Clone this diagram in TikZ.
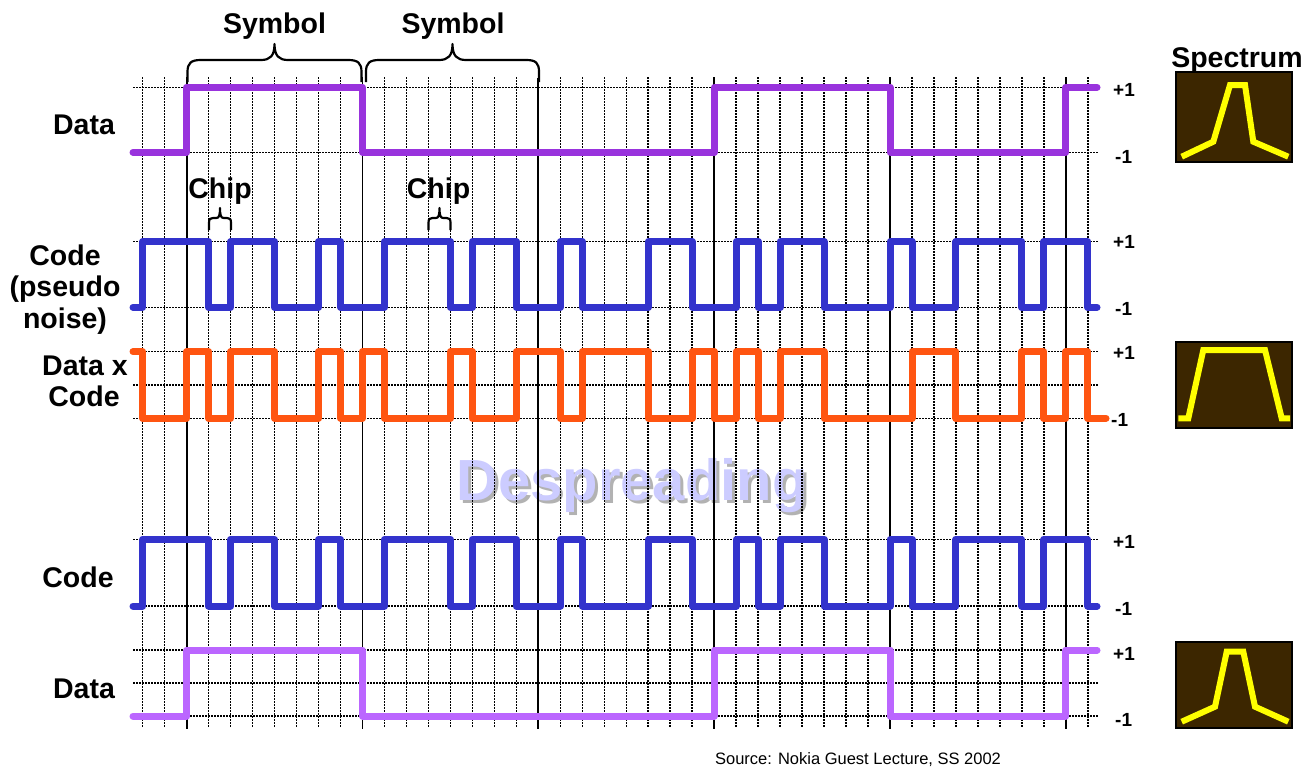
\documentclass[tikz,border=0pt]{standalone}
\usepackage{fontspec}
\setmainfont{Liberation Sans}
\definecolor{datap}{RGB}{153,51,221}
\definecolor{datal}{RGB}{187,102,255}
\definecolor{codeb}{RGB}{51,51,204}
\definecolor{prodo}{RGB}{255,85,17}
\definecolor{specbg}{RGB}{60,38,0}
\definecolor{specy}{RGB}{255,255,0}
\definecolor{despr}{RGB}{204,204,255}
\definecolor{shad}{RGB}{178,178,178}
\begin{document}
\begin{tikzpicture}[x=1pt,y=-1pt,
  wave/.style={line width=7pt,line cap=round,line join=round},
  gridv/.style={line width=1.5pt,dash pattern=on 1.5pt off 1.5pt},
  solidv/.style={line width=1.8pt},
  bracepath/.style={line width=2.2pt,line cap=butt,line join=round},
  lbl/.style={font=\fontsize{28.5}{32}\selectfont\bfseries,inner sep=0pt,anchor=base},
  lvl/.style={font=\fontsize{19}{21}\selectfont\bfseries,inner sep=0pt,anchor=west},
  specbox/.style={fill=specbg,draw=black,line width=2.2pt},
  specline/.style={draw=specy,line width=6pt,line join=miter,line cap=butt}]
\fill[white] (0,0) rectangle (1314,771);
\useasboundingbox (0,0) rectangle (1314,771);

% Despreading watermark (with shadow)
\node[font=\fontsize{58}{60}\selectfont\bfseries,inner sep=0pt,anchor=base] (desp) at (632,500)
  {\makebox[0pt][l]{\hspace{3pt}\raisebox{-3pt}{\textcolor{shad}{Despreading}}}\textcolor{despr}{Despreading}};

% grid
\foreach \k in {0,...,43}
  \draw[gridv] ({142.7+21.98*\k},77) -- ({142.7+21.98*\k},728);
\foreach \y in {87.3,152.3,241.7,307.3,351.7,385,418.3,539.3,606,650,683,716}
  \draw[gridv] (133,\y) -- (1099,\y);
\foreach \k in {2,10,18,26,34,42}
  \draw[solidv] ({142.7+21.98*\k},78) -- ({142.7+21.98*\k},729);

% waveforms
\draw[wave,datap] (133,152.3) foreach \k [count=\i] in {2,10,26,34,42}
  { -| ({142.7+21.98*\k},{152.3-65*mod(\i,2)}) } -- (1097,87.3);
\draw[wave,codeb] (133,307.3) foreach \k [count=\i] in {0,3,4,6,8,9,11,14,15,17,19,20,23,25,27,28,29,31,34,35,37,40,41,43}
  { -| ({142.7+21.98*\k},{307.3-65.6*mod(\i,2)}) } -- (1097,307.3);
\draw[wave,prodo] (133,351.7) foreach \k [count=\i] in {0,2,3,4,6,8,9,10,11,14,15,17,19,20,23,25,26,27,28,29,31,35,37,40,41,42,43}
  { -| ({142.7+21.98*\k},{351.7+66.6*mod(\i,2)}) } -- (1106,418.3);
\draw[wave,codeb] (133,606) foreach \k [count=\i] in {0,3,4,6,8,9,11,14,15,17,19,20,23,25,27,28,29,31,34,35,37,40,41,43}
  { -| ({142.7+21.98*\k},{606-66.7*mod(\i,2)}) } -- (1097,606);
\draw[wave,datal] (133,716) foreach \k [count=\i] in {2,10,26,34,42}
  { -| ({142.7+21.98*\k},{716-66*mod(\i,2)}) } -- (1097,650);

% symbol braces
\draw[bracepath] (187.5,82) -- (187.5,72) .. controls (187.5,63) and (191,60) .. (201,60) -- (261,60)
  .. controls (270,60) and (274.5,56) .. (274.5,44) .. controls (274.5,56) and (279,60) .. (288,60)
  -- (348,60) .. controls (358,60) and (361.5,63) .. (361.5,72) -- (361.5,82);
\draw[bracepath] (366,82) -- (366,72) .. controls (366,63) and (369.5,60) .. (379.5,60) -- (439,60)
  .. controls (448,60) and (452.5,56) .. (452.5,44) .. controls (452.5,56) and (457,60) .. (466,60)
  -- (526,60) .. controls (536,60) and (539,63) .. (539,72) -- (539,82);
\node[lbl] (sym1) at (274.5,33) {Symbol};
\node[lbl] (sym2) at (453,33) {Symbol};

% chip braces
\draw[bracepath] (209,230) -- (209,223) .. controls (209,219) and (210,218) .. (213,218) -- (216,218)
  .. controls (219,218) and (220,216) .. (220,208) .. controls (220,216) and (221,218) .. (224,218)
  -- (227,218) .. controls (230,218) and (231,219) .. (231,223) -- (231,230);
\draw[bracepath] (428.5,230) -- (428.5,223) .. controls (428.5,219) and (429.5,218) .. (432.5,218) -- (435.5,218)
  .. controls (438.5,218) and (439.5,216) .. (439.5,208) .. controls (439.5,216) and (440.5,218) .. (443.5,218)
  -- (446.5,218) .. controls (449.5,218) and (450.5,219) .. (450.5,223) -- (450.5,230);
\node[lbl] (chip1) at (220,198) {Chip};
\node[lbl] (chip2) at (438.5,198) {Chip};

% left labels
\node[lbl] (ldata1) at (84,134) {Data};
\node[lbl] (lcode1a) at (65,265) {Code};
\node[lbl] (lcode1b) at (65,296.5) {(pseudo};
\node[lbl] (lcode1c) at (65,328) {noise)};
\node[lbl] (ldxc1) at (85,375) {Data x};
\node[lbl] (ldxc2) at (84,406) {Code};
\node[lbl] (lcode2) at (78,587) {Code};
\node[lbl] (ldata2) at (84,698) {Data};

% level labels
\node[lvl] (d1p) at (1113,90) {+1};
\node[lvl] (d1m) at (1115,157) {-1};
\node[lvl] (c1p) at (1113,242) {+1};
\node[lvl] (c1m) at (1115,309) {-1};
\node[lvl] (x1p) at (1113,353) {+1};
\node[lvl] (x1m) at (1111,420) {-1};
\node[lvl] (c2p) at (1113,542) {+1};
\node[lvl] (c2m) at (1115,609) {-1};
\node[lvl] (d2p) at (1113,654) {+1};
\node[lvl] (d2m) at (1115,720) {-1};

% spectrum
\node[lbl] (spec) at (1237,67) {Spectrum};
\draw[specbox] (1176,72) rectangle (1292,162);
\draw[specline] (1181.7,156.7) -- (1213.3,141.7) -- (1230,85) -- (1245,85) -- (1253.3,141.7) -- (1288.3,156.7);
\draw[specbox] (1176,342) rectangle (1292,428);
\draw[specline] (1178.3,418.3) -- (1188.3,418.3) -- (1203.3,350) -- (1265,350) -- (1281.7,418.3) -- (1290,418.3);
\draw[specbox] (1176,642) rectangle (1292,728);
\draw[specline] (1181.7,721.7) -- (1215,706.7) -- (1226.7,651.7) -- (1243.3,651.7) -- (1255,706.7) -- (1288.3,721.7);

% source
\node[font=\fontsize{16.5}{19}\selectfont,inner sep=0pt] (src) at (858,760) {Source: Nokia Guest Lecture, SS 2002};
\end{tikzpicture}
\end{document}
